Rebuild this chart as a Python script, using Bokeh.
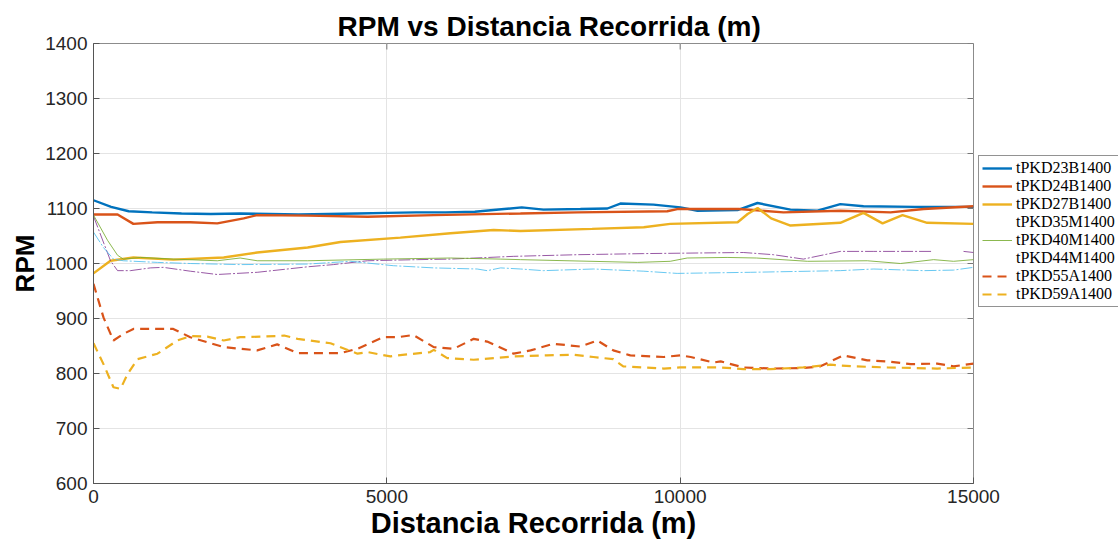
import numpy as np
from bokeh.plotting import figure
from bokeh.models import Legend, LegendItem, Range1d, FixedTicker, Title
from bokeh.embed import file_html
from bokeh.resources import INLINE

# --- data: distance (m) and RPM per test run ---
d_23B = [0, 300, 600, 1000, 1500, 2000, 2500, 3000, 3500, 4000, 4500, 5000, 5500, 6000, 6500, 7000,
         7300, 7670, 8300, 8760, 8980, 9545, 10005, 10295, 10977, 11318, 11880, 12340, 12730, 13125, 14000, 15000]
rpm_23B = [1115, 1103, 1095, 1093, 1091, 1090, 1091, 1090, 1089, 1090, 1091, 1092, 1093, 1093, 1094, 1099,
           1102, 1098, 1099, 1100, 1109, 1107, 1102, 1096, 1097, 1110, 1098, 1096, 1108, 1104, 1103, 1103]

d_24B = [0, 410, 680, 1090, 1650, 2110, 2560, 2790, 3650, 4670, 5800, 7278, 8250, 9780, 9950, 11000,
         11760, 12730, 13585, 14150, 15000]
rpm_24B = [1089, 1089, 1072, 1075, 1075, 1073, 1082, 1088, 1087, 1085, 1088, 1091, 1093, 1095, 1099, 1099,
           1093, 1096, 1093, 1099, 1104]

d_27B = [0, 290, 680, 1360, 2220, 2790, 3650, 4210, 5230, 6085, 6820, 7278, 8500, 9380, 9830, 10980,
         11150, 11320, 11550, 11880, 12730, 13125, 13450, 13790, 14210, 15000]
rpm_27B = [982, 1005, 1011, 1007, 1011, 1020, 1029, 1039, 1047, 1055, 1061, 1059, 1063, 1066, 1072, 1075,
           1090, 1101, 1082, 1069, 1074, 1092, 1073, 1088, 1074, 1072]

d_35M = [0, 290, 410, 630, 970, 1190, 1650, 2110, 2790, 3650, 4090, 4670, 5520, 6085, 7160, 8250,
         9380, 11080, 11590, 12100, 12730, 13300, 14300, 14550, 14830, 15000]
rpm_35M = [1086, 1005, 987, 987, 992, 993, 986, 980, 984, 994, 998, 1005, 1007, 1008, 1013, 1016,
           1018, 1020, 1016, 1008, 1022, 1022, 1022, np.nan, 1022, 1020]

d_40M = [0, 240, 410, 510, 800, 1360, 2110, 2500, 2790, 3650, 4940, 6085, 6940, 7278, 9270, 9830,
         10120, 10800, 11300, 12170, 13190, 13755, 14320, 14660, 15000]
rpm_40M = [1088, 1042, 1015, 1008, 1011, 1008, 1005, 1010, 1005, 1005, 1008, 1010, 1008, 1007, 1002, 1004,
           1010, 1011, 1010, 1004, 1005, 1000, 1007, 1004, 1007]

d_44M = [0, 170, 340, 510, 1090, 1650, 2500, 3650, 4380, 5110, 5800, 6540, 6710, 6940, 7278, 7670,
         8520, 9380, 9950, 11200, 12730, 13300, 14150, 14660, 15000]
rpm_44M = [1057, 1029, 1008, 1005, 1002, 1000, 998, 999, 1004, 996, 992, 990, 987, 992, 990, 987,
           990, 986, 982, 984, 987, 990, 987, 988, 993]

d_55A = [0, 170, 340, 510, 680, 1360, 1650, 2220, 2790, 3130, 3480, 4210, 4500, 4940, 5180, 5450,
         5800, 6140, 6480, 6710, 7160, 7450, 7840, 8300, 8590, 8860, 9150, 9720, 10000, 10180, 10570,
         10690, 11080, 11540, 12100, 12390, 12780, 13190, 13530, 13930, 14380, 14660, 15000]
rpm_55A = [963, 902, 860, 872, 881, 881, 866, 848, 842, 853, 837, 837, 845, 866, 866, 870,
           848, 845, 863, 858, 836, 842, 854, 849, 860, 842, 833, 830, 833, 830, 820,
           822, 811, 809, 810, 813, 833, 824, 822, 817, 818, 813, 818]

d_59A = [0, 170, 340, 460, 580, 750, 1090, 1430, 1650, 1940, 2220, 2500, 3130, 3250, 3480, 4040,
         4500, 4670, 5060, 5180, 5740, 5800, 6030, 6480, 7160, 7730, 8180, 8520, 8860, 9030, 9720,
         10000, 10690, 11080, 11540, 12100, 12560, 12950, 13530, 14380, 15000]
rpm_59A = [855, 817, 775, 772, 799, 826, 836, 860, 868, 867, 860, 866, 868, 869, 863, 855,
           836, 839, 831, 833, 839, 843, 828, 825, 831, 833, 834, 830, 826, 813, 809,
           811, 811, 808, 808, 811, 816, 813, 811, 809, 811]

x_ticks = [0, 5000, 10000, 15000]
y_ticks = [600, 700, 800, 900, 1000, 1100, 1200, 1300, 1400]
x_min, x_max = 0, 15000
y_min, y_max = 600, 1400

# --- figure ---
p = figure(frame_width=880, frame_height=440, output_backend="svg", toolbar_location=None,
           x_range=Range1d(x_min, x_max), y_range=Range1d(y_min, y_max),
           min_border_left=93, min_border_right=145, min_border_top=43, min_border_bottom=62,
           background_fill_color="white", border_fill_color="white")
p.outline_line_color = "#8c8c8c"
p.outline_line_width = 1

p.title = Title(text="RPM vs Distancia Recorrida (m)", align="left", offset=244,
                text_font="Liberation Sans", text_font_style="bold",
                text_font_size="28px", text_color="black", standoff=3)

for ax in (p.xaxis[0], p.yaxis[0]):
    ax.major_tick_in = 6
    ax.major_tick_out = 0
    ax.minor_tick_in = 0
    ax.minor_tick_out = 0
    ax.axis_line_color = "#555555"
    ax.major_tick_line_color = "#555555"
    ax.major_label_text_font = "Liberation Sans"
    ax.major_label_text_font_size = "19px"
    ax.major_label_text_color = "#262626"
    ax.axis_label_text_font = "Liberation Sans"
    ax.axis_label_text_font_style = "bold"
    ax.axis_label_text_color = "black"

p.xaxis[0].ticker = FixedTicker(ticks=x_ticks)
p.yaxis[0].ticker = FixedTicker(ticks=y_ticks)
p.xaxis[0].axis_label = "Distancia Recorrida (m)"
p.yaxis[0].axis_label = "RPM"
p.xaxis[0].axis_label_text_font_size = "29px"
p.yaxis[0].axis_label_text_font_size = "26px"
p.xaxis[0].major_label_standoff = 6
p.yaxis[0].major_label_standoff = 6
p.xaxis[0].axis_label_standoff = 1
p.yaxis[0].axis_label_standoff = 2

p.xgrid.ticker = FixedTicker(ticks=x_ticks)
p.ygrid.ticker = FixedTicker(ticks=y_ticks)
p.grid.grid_line_color = "#e4e4e4"
p.grid.grid_line_width = 1

# mirrored inward ticks along the top and right edges of the box
tick_dx = (x_max - x_min) * 6 / 880
tick_dy = (y_max - y_min) * 6 / 440
p.segment(x0=x_ticks, y0=[y_max] * len(x_ticks), x1=x_ticks, y1=[y_max - tick_dy] * len(x_ticks),
          line_color="#777777", line_width=1)
p.segment(x0=[x_max] * len(y_ticks), y0=y_ticks, x1=[x_max - tick_dx] * len(y_ticks), y1=y_ticks,
          line_color="#777777", line_width=1)

# --- series ---
C_BLUE, C_ORANGE, C_YELLOW = "#0072BD", "#D95319", "#EDB120"
C_PURPLE, C_GREEN, C_LBLUE = "#7E2F8E", "#77AC30", "#4DBEEE"

r23 = p.line(d_23B, rpm_23B, line_color=C_BLUE, line_width=2.4)
r24 = p.line(d_24B, rpm_24B, line_color=C_ORANGE, line_width=2.4)
r27 = p.line(d_27B, rpm_27B, line_color=C_YELLOW, line_width=2.4)
r35 = p.line(d_35M, rpm_35M, line_color=C_PURPLE, line_width=1, line_alpha=0.8, line_dash="12 2 2 2")
r40 = p.line(d_40M, rpm_40M, line_color=C_GREEN, line_width=1, line_alpha=0.85)
r44 = p.line(d_44M, rpm_44M, line_color=C_LBLUE, line_width=1, line_alpha=0.85, line_dash="12 2 2 2")
r55 = p.line(d_55A, rpm_55A, line_color=C_ORANGE, line_width=2.2, line_dash="9 6")
r59 = p.line(d_59A, rpm_59A, line_color=C_YELLOW, line_width=2.2, line_dash="9 6")

# legend keys for the thin dash-dot runs show no visible sample
k35 = p.line([np.nan], [np.nan], line_alpha=0)
k44 = p.line([np.nan], [np.nan], line_alpha=0)

items = [
    LegendItem(label="tPKD23B1400", renderers=[r23]),
    LegendItem(label="tPKD24B1400", renderers=[r24]),
    LegendItem(label="tPKD27B1400", renderers=[r27]),
    LegendItem(label="tPKD35M1400", renderers=[k35]),
    LegendItem(label="tPKD40M1400", renderers=[r40]),
    LegendItem(label="tPKD44M1400", renderers=[k44]),
    LegendItem(label="tPKD55A1400", renderers=[r55]),
    LegendItem(label="tPKD59A1400", renderers=[r59]),
]
legend = Legend(items=items, location=(5, 176),
                label_text_font="Liberation Serif", label_text_font_size="16px",
                label_text_color="black", label_height=18, label_standoff=4,
                glyph_width=30, glyph_height=18, spacing=0, padding=3, margin=0,
                border_line_color="#262626", border_line_width=1,
                background_fill_color="white", background_fill_alpha=1)
p.add_layout(legend, "right")

open("out.html", "w").write(file_html(p, INLINE))
